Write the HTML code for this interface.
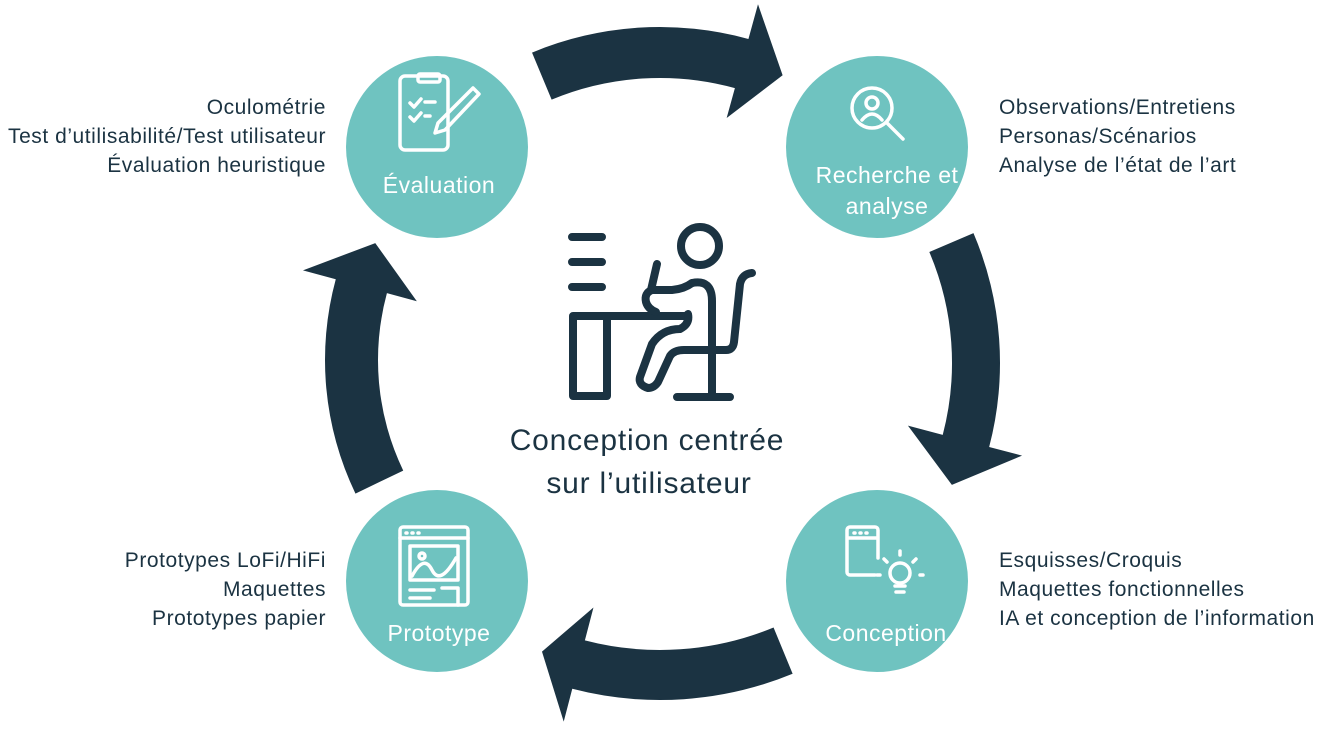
<!DOCTYPE html>
<html><head><meta charset="utf-8"><style>
body{margin:0;width:1327px;height:730px;background:#fff;overflow:hidden;font-family:"Liberation Sans",sans-serif}
svg{position:absolute;left:0;top:0}
.t{position:absolute;color:#1b3342;font-size:21px;letter-spacing:0.55px;line-height:29px;white-space:nowrap}
.r{text-align:right}
</style></head><body>
<svg width="1327" height="730" viewBox="0 0 1327 730">
<g id="arrows" fill="#1b3342"></g>
<g fill="#6fc3c0">
<circle cx="437" cy="147" r="91"/><circle cx="877" cy="147" r="91"/>
<circle cx="877" cy="581" r="91"/><circle cx="437" cy="581" r="91"/>
</g>
<g fill="none" stroke="#fff" stroke-width="3.5" stroke-linecap="round" stroke-linejoin="round">
<rect x="400" y="76" width="48" height="74" rx="5"/>
<rect x="418" y="74" width="22" height="8" rx="2"/>
<path d="M410 103l4 4 7-8M410 117l4 4 7-8M425 102h10M425 116h5"/>
<path d="M473 88l6 6-34 36-10 3 3-10z"/>
<circle cx="872" cy="108" r="20"/>
<circle cx="872" cy="103" r="6"/>
<path d="M862 120q10-12 20 0"/>
<path d="M887 123l16 16"/>
<path d="M878 558v-28a3 3 0 0 0-3-3h-25a3 3 0 0 0-3 3v42a3 3 0 0 0 3 3h25M847 538h31"/>
<path d="M854 533h1M860 533h1M866 533h1"/>
<circle cx="900" cy="573" r="10"/>
<path d="M895 586h10M896 592h8M900 551v4M884 559l3 3M916 559l-3 3M877 575h3M920 575h3"/>
<rect x="400" y="527" width="68" height="78" rx="3"/>
<path d="M400 538h68M406 533h1M412 533h1M418 533h1"/>
<rect x="410" y="546" width="48" height="34"/>
<path d="M412 576q12-22 20-6t24-12"/>
<circle cx="422" cy="556" r="3"/>
<path d="M410 590h24M410 598h20M442 588h16v17"/>
</g>
<g fill="none" stroke="#1b3342" stroke-width="8" stroke-linecap="round" stroke-linejoin="round">
<path d="M572 237h30M572 262h30M572 287h30"/>
<circle cx="700" cy="246" r="19"/>
<path d="M573 396V316h115M573 396h34V318"/>
<path d="M657 264l-6 26"/>
<path d="M692 283q-8 6-20 7h-20q-8 3-6 12 2 7 10 10"/>
<path d="M692 283q20-4 20 18v50"/>
<path d="M688 314q2 10-8 15-18 0-28 15l-12 33q-2 8 8 11 6 0 10-6l12-26q4-6 14-6h42q7 0 8-8l6-58q2-10 12-11"/>
<path d="M712 352v45M677 397h53"/>
</g>
<g fill="#fff" font-family="Liberation Sans, sans-serif" font-size="23" letter-spacing="0.5" text-anchor="middle">
<text x="439" y="193">Évaluation</text>
<text x="887" y="183">Recherche et</text>
<text x="887" y="214">analyse</text>
<text x="886" y="641">Conception</text>
<text x="439" y="641">Prototype</text>
</g>
<g fill="#1b3342" font-family="Liberation Sans, sans-serif" font-size="30" letter-spacing="0.8" text-anchor="middle">
<text x="647" y="450">Conception centrée</text>
<text x="649" y="493">sur l’utilisateur</text>
</g>
</svg>
<div class="t r" style="right:1001px;top:93px">Oculométrie<br>Test d’utilisabilité/Test utilisateur<br>Évaluation heuristique</div>
<div class="t" style="left:999px;top:93px">Observations/Entretiens<br>Personas/Scénarios<br>Analyse de l’état de l’art</div>
<div class="t r" style="right:1001px;top:546px">Prototypes LoFi/HiFi<br>Maquettes<br>Prototypes papier</div>
<div class="t" style="left:999px;top:546px">Esquisses/Croquis<br>Maquettes fonctionnelles<br>IA et conception de l’information</div>
<script>
function arrow(cx,cy,Ri,Ro,a0,a1,hi,ho,a2,rt){
 function P(a,r){a=a*Math.PI/180;return [cx+r*Math.cos(a),cy+r*Math.sin(a)];}
 var d="M"+P(a0,Ro)+" A"+Ro+" "+Ro+" 0 0 1 "+P(a1,Ro)+" L"+P(a1,ho)+" L"+P(a2,rt)+" L"+P(a1,hi)+" L"+P(a1,Ri)+" A"+Ri+" "+Ri+" 0 0 0 "+P(a0,Ri)+"Z";
 var p=document.createElementNS("http://www.w3.org/2000/svg","path");p.setAttribute("d",d);
 document.getElementById("arrows").appendChild(p);
}
arrow(660,360,282,333,-112.6,-74.6,251,369,-66.7,310);
arrow(669,363,283,331,-23.1,14.7,247,365,23.3,308);
arrow(660,352,298,348,67.6,104.6,264,382,111.5,322);
arrow(633,360,255,308,154.3,195.2,224,342,204.4,283);
</script>
</body></html>
